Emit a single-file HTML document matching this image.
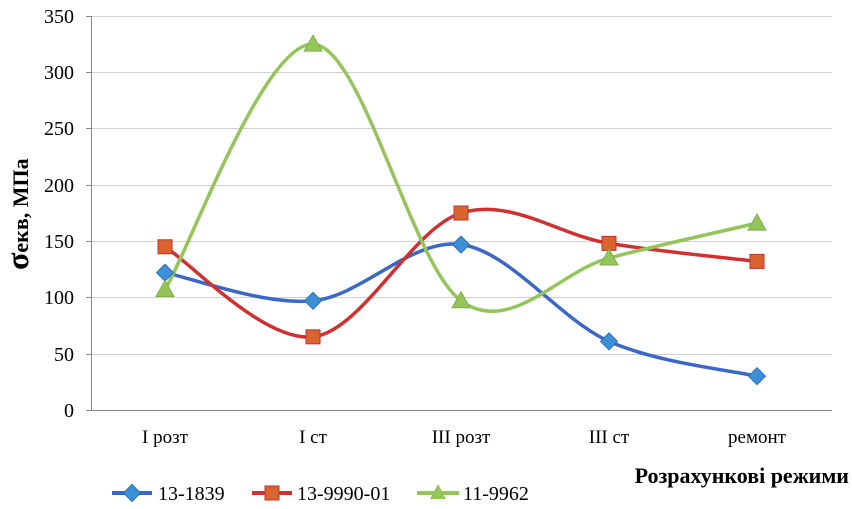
<!DOCTYPE html>
<html><head><meta charset="utf-8"><style>
body{margin:0;background:#fff;}
svg{display:block;font-family:"Liberation Serif",serif;}
</style></head><body>
<svg id="s" width="852" height="509" viewBox="0 0 852 509">
<g stroke="#d0d0d0" stroke-width="1">
<line x1="91" x2="832" y1="16.5" y2="16.5"/><line x1="91" x2="832" y1="72.5" y2="72.5"/>
<line x1="91" x2="832" y1="128.5" y2="128.5"/><line x1="91" x2="832" y1="185.5" y2="185.5"/>
<line x1="91" x2="832" y1="241.5" y2="241.5"/><line x1="91" x2="832" y1="297.5" y2="297.5"/>
<line x1="91" x2="832" y1="354.5" y2="354.5"/>
</g>
<g stroke="#888" stroke-width="1">
<line x1="91.5" x2="91.5" y1="16" y2="410"/><line x1="91" x2="832" y1="410.5" y2="410.5"/>
<line x1="86" x2="91" y1="16.5" y2="16.5"/><line x1="86" x2="91" y1="72.5" y2="72.5"/>
<line x1="86" x2="91" y1="128.5" y2="128.5"/><line x1="86" x2="91" y1="185.5" y2="185.5"/>
<line x1="86" x2="91" y1="241.5" y2="241.5"/><line x1="86" x2="91" y1="297.5" y2="297.5"/>
<line x1="86" x2="91" y1="354.5" y2="354.5"/><line x1="86" x2="91" y1="410.5" y2="410.5"/>
</g>
<g font-size="20" text-anchor="end" fill="#000">
<text x="74" y="23">350</text><text x="74" y="79">300</text><text x="74" y="135">250</text>
<text x="74" y="192">200</text><text x="74" y="248">150</text><text x="74" y="304">100</text>
<text x="74" y="361">50</text><text x="74" y="417">0</text>
</g>
<g font-size="19" text-anchor="middle">
<text x="165" y="443">І розт</text><text x="313" y="443">І ст</text><text x="461" y="443">ІІІ розт</text>
<text x="609" y="443">ІІІ ст</text><text x="757" y="443">ремонт</text>
</g>
<text x="849" y="483" font-size="22" font-weight="bold" text-anchor="end">Розрахункові режими</text>
<text transform="translate(28,270) rotate(-90)" font-size="22" font-weight="bold" text-anchor="start"><tspan font-size="32">σ</tspan>екв, МПа</text>
<g id="series"></g>
<g font-size="20">
<line x1="112" x2="152" y1="493" y2="493" stroke="#3a67c8" stroke-width="4"/>
<rect x="126" y="487" width="12" height="12" fill="#3d8fd8" stroke="#2f6fb8" transform="rotate(45 132 493)"/>
<text x="158" y="500">13-1839</text>
<line x1="252" x2="292" y1="493" y2="493" stroke="#d03030" stroke-width="4"/>
<rect x="265" y="486" width="14" height="14" fill="#d9642e" stroke="#c03030"/>
<text x="297" y="500">13-9990-01</text>
<line x1="417" x2="459" y1="493" y2="493" stroke="#93c55a" stroke-width="4"/>
<polygon points="438,484 446,499 430,499" fill="#93c55a"/>
<text x="463" y="500">11-9962</text>
</g>
</svg>
<script>
var xs=[165,313,461,609,757];
function Y(v){return 410-v*394/350;}
var S=[
{d:[122,97,147,61,30],c:"#3a67c8",m:"d",f:"#3d8fd8",s:"#2f6fb8"},
{d:[145,65,175,148,132],c:"#d03030",m:"s",f:"#d9642e",s:"#c03030"},
{d:[107,325,97,135,166],c:"#93c55a",m:"t",f:"#93c55a",s:"#7fb04a"}];
var g=document.getElementById("series"),h="";
S.forEach(function(o){
 var p=o.d.map(function(v,i){return [xs[i],Y(v)];});
 var d="M"+p[0][0]+","+p[0][1];
 for(var i=0;i<p.length-1;i++){
  var p0=p[i-1]||p[i],p1=p[i],p2=p[i+1],p3=p[i+2]||p2,t=6;
  d+=" C"+(p1[0]+(p2[0]-p0[0])/t)+","+(p1[1]+(p2[1]-p0[1])/t)+" "+(p2[0]-(p3[0]-p1[0])/t)+","+(p2[1]-(p3[1]-p1[1])/t)+" "+p2[0]+","+p2[1];
 }
 h+='<path d="'+d+'" fill="none" stroke="'+o.c+'" stroke-width="3.5"/>';
});
S.forEach(function(o){
 o.d.forEach(function(v,i){var x=xs[i],y=Y(v);
  if(o.m=="d")h+='<rect x="'+(x-6)+'" y="'+(y-6)+'" width="12" height="12" fill="'+o.f+'" stroke="'+o.s+'" transform="rotate(45 '+x+' '+y+')"/>';
  else if(o.m=="s")h+='<rect x="'+(x-7)+'" y="'+(y-7)+'" width="14" height="14" fill="'+o.f+'" stroke="'+o.s+'"/>';
  else h+='<polygon points="'+x+','+(y-9)+' '+(x+9)+','+(y+7)+' '+(x-9)+','+(y+7)+'" fill="'+o.f+'" stroke="'+o.s+'"/>';
 });
});
g.innerHTML=h;
</script>
</body></html>
